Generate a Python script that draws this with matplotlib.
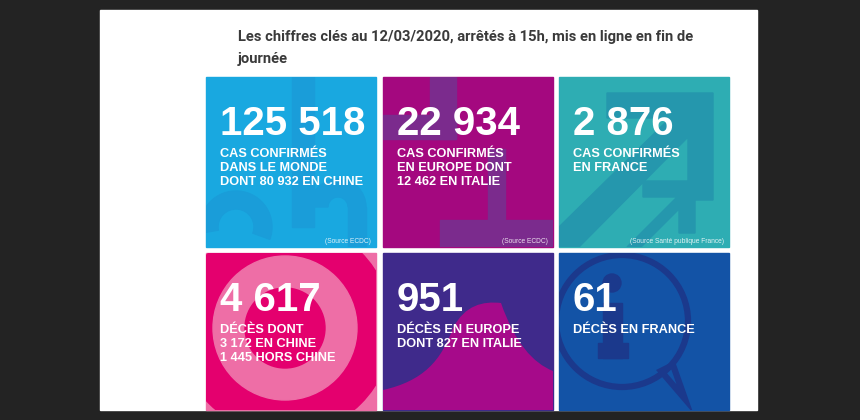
import matplotlib.pyplot as plt
from matplotlib.patches import Rectangle, Circle, Polygon, PathPatch, Wedge
from matplotlib.path import Path

# Data
title_lines = ["Les chiffres clés au 12/03/2020, arrêtés à 15h, mis en ligne en fin de",
               "journée"]
numbers = ["125 518", "22 934", "2 876", "4 617", "951", "61"]
labels = [["CAS CONFIRMÉS", "DANS LE MONDE", "DONT 80 932 EN CHINE"],
          ["CAS CONFIRMÉS", "EN EUROPE DONT", "12 462 EN ITALIE"],
          ["CAS CONFIRMÉS", "EN FRANCE"],
          ["DÉCÈS DONT", "3 172 EN CHINE", "1 445 HORS CHINE"],
          ["DÉCÈS EN EUROPE", "DONT 827 EN ITALIE"],
          ["DÉCÈS EN FRANCE"]]
sources = ["(Source ECDC)", "(Source ECDC)", "(Source Santé publique France)", "", "", ""]
base_colors = ["#19a8e0", "#a4087f", "#2eadb3", "#ee6ea6", "#3f2a8b", "#1353a6"]
decor_colors = ["#1a9dd9", "#7b2b8d", "#2597ad", "#e4006e", "#a60a8a", "#1b398c"]

W, H = 860, 420
fig = plt.figure(figsize=(8.6, 4.2), dpi=100)
fig.patch.set_facecolor("#232323")
ax = fig.add_axes([0, 0, 1, 1])
ax.set_xlim(0, W)
ax.set_ylim(H, 0)
ax.axis("off")

# white page
ax.add_patch(Rectangle((100, 10), 657, 400, color="white", zorder=1))

for i, line in enumerate(title_lines):
    ax.text(238, 41 + 22 * i, line, fontsize=10.6, fontweight="bold", color="#3a3a3a",
            family="Roboto", va="baseline", zorder=5)

tile_x = [206, 383, 559]
tile_y = [77, 253]
tw, th = 170, 170


def decorate(k, x0, y0):
    c = decor_colors[k]
    if k == 0:
        # faint "2" and "1" shapes
        ax.add_patch(Rectangle((x0 + 86, y0), 22, 150, color=c, zorder=2))
        ax.add_patch(Wedge((x0 + 132, y0 + 130), 28, 180, 360, width=18, color=c, zorder=2))
        ax.add_patch(Rectangle((x0 + 142, y0 + 130), 18, 40, color=c, zorder=2))
        ax.add_patch(Wedge((x0 + 30, y0 + 150), 36, 170, 380, width=18, color=c, zorder=2))
    elif k == 1:
        ax.add_patch(Rectangle((x0 + 47, y0), 26, 62, color=c, zorder=2))
        ax.add_patch(Rectangle((x0, y0 + 38), 73, 24, color=c, zorder=2))
        ax.add_patch(Rectangle((x0 + 105, y0 + 72), 17, 98, color=c, zorder=2))
        ax.add_patch(Rectangle((x0 + 57, y0 + 143), 113, 27, color=c, zorder=2))
    elif k == 2:
        ax.add_patch(Polygon([(x0 + 48, y0 + 16), (x0 + 154, y0 + 16), (x0 + 154, y0 + 123),
                              (x0 + 129, y0 + 123), (x0 + 129, y0 + 60), (x0 + 20, y0 + 170),
                              (x0, y0 + 170), (x0, y0 + 150), (x0 + 111, y0 + 41),
                              (x0 + 48, y0 + 41)], closed=True, color=c, zorder=2))
        ax.add_patch(Polygon([(x0 + 68, y0 + 170), (x0 + 118, y0 + 120), (x0 + 84, y0 + 120),
                              (x0 + 84, y0 + 104), (x0 + 136, y0 + 104), (x0 + 136, y0 + 156),
                              (x0 + 120, y0 + 156), (x0 + 120, y0 + 132), (x0 + 82, y0 + 170)],
                             closed=True, color=c, zorder=2))
    elif k == 3:
        cx, cy = x0 + 79, y0 + 75
        ax.add_patch(Circle((cx, cy), 107, color=c, zorder=2))
        ax.add_patch(Circle((cx, cy), 72, color=base_colors[k], zorder=2))
        ax.add_patch(Circle((cx, cy), 40, color=c, zorder=2))
    elif k == 4:
        verts = [(x0, y0 + 137), (x0 + 40, y0 + 128), (x0 + 58, y0 + 108),
                 (x0 + 70, y0 + 75), (x0 + 82, y0 + 52), (x0 + 100, y0 + 48),
                 (x0 + 118, y0 + 50), (x0 + 132, y0 + 90), (x0 + 150, y0 + 110),
                 (x0 + 170, y0 + 118), (x0 + 170, y0 + 170), (x0, y0 + 170), (x0, y0 + 137)]
        codes = [Path.MOVETO, Path.CURVE4, Path.CURVE4, Path.CURVE4, Path.CURVE4, Path.CURVE4,
                 Path.CURVE4, Path.CURVE4, Path.CURVE4, Path.CURVE4, Path.LINETO, Path.LINETO,
                 Path.CLOSEPOLY]
        ax.add_patch(PathPatch(Path(verts, codes), color=c, lw=0, zorder=2))
    elif k == 5:
        ax.add_patch(Circle((x0 + 63, y0 + 68), 66, fill=False, ec=c, lw=4.5, zorder=2))
        ax.add_patch(Polygon([(x0 + 102, y0 + 118), (x0 + 126, y0 + 146), (x0 + 114, y0 + 112)],
                             closed=True, fill=False, ec=c, lw=4.5, zorder=2))
        ax.add_patch(Circle((x0 + 53, y0 + 30), 9, color=c, zorder=2))
        ax.add_patch(Rectangle((x0 + 44, y0 + 50), 19, 55, color=c, zorder=2))
        ax.add_patch(Rectangle((x0 + 39, y0 + 90), 30, 15, color=c, zorder=2))


for k in range(6):
    x0 = tile_x[k % 3]
    y0 = tile_y[k // 3]
    h = th if k < 3 else 410 - y0
    clip = Rectangle((x0, y0), tw, h, color=base_colors[k], zorder=1.5)
    ax.add_patch(clip)
    n_before = len(ax.patches)
    decorate(k, x0, y0)
    for p in ax.patches[n_before:]:
        p.set_clip_path(clip)

    ax.text(x0 + 14, y0 + 58, numbers[k], fontsize=29, fontweight="bold", color="white",
            family="Liberation Sans", va="baseline", zorder=5)
    for j, line in enumerate(labels[k]):
        ax.text(x0 + 14, y0 + 80 + 14 * j, line, fontsize=9.2, fontweight="bold", color="white",
                family="Liberation Sans", va="baseline", zorder=5)
    if sources[k]:
        ax.text(x0 + tw - 5, y0 + th - 4, sources[k], fontsize=4.8, color="white", alpha=0.85,
                family="Liberation Sans", ha="right", va="baseline", zorder=5)

fig.savefig("out.png", dpi=100, facecolor=fig.get_facecolor())
